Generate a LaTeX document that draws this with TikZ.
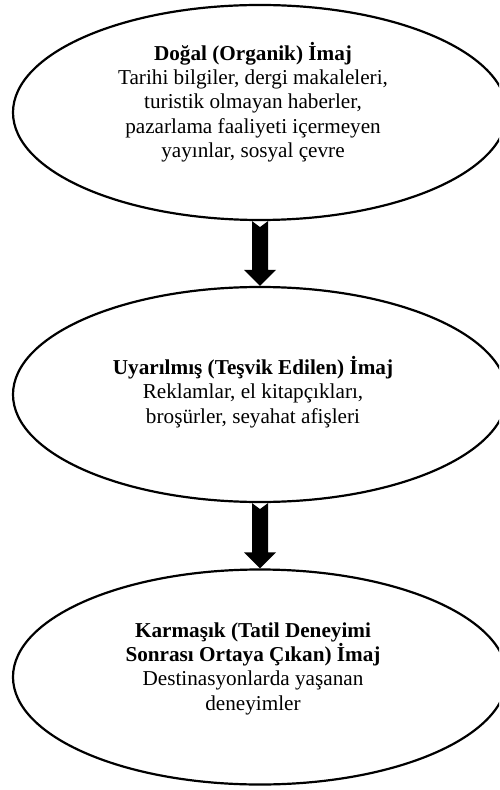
\documentclass[tikz,border=0pt]{standalone}
\usepackage{fontspec}
\setmainfont{Liberation Serif}
\usetikzlibrary{shapes.geometric,calc}
\begin{document}
\begin{tikzpicture}[x=0.5pt,y=-0.5pt,
  oval/.style={draw=black, line width=1.1pt, ellipse, minimum width=247pt,
    minimum height=107.5pt, inner sep=0pt},
  caption/.style={align=center, inner sep=0pt,
    font=\fontsize{10.6}{12.15}\selectfont},
  blockarrow/.style={fill=black, draw=none}]
\useasboundingbox (0,0) rectangle (499,790);
\clip (0,0) rectangle (499,790);

% the three stages
\node[oval] (e1) at (260,112.5) {};
\node[oval] (e2) at (260,394.5) {};
\node[oval] (e3) at (260,677) {};

\node[caption] (t1) at ($(e1.center)+(-7,-10.5)$) {\textbf{Doğal (Organik) İmaj}\\
  Tarihi bilgiler, dergi makaleleri,\\turistik olmayan haberler,\\
  pazarlama faaliyeti içermeyen\\yayınlar, sosyal çevre};
\node[caption] (t2) at ($(e2.center)+(-7,-2.5)$) {\textbf{Uyarılmış (Teşvik Edilen) İmaj}\\
  Reklamlar, el kitapçıkları,\\broşürler, seyahat afişleri};
\node[caption] (t3) at ($(e3.center)+(-7,-8.5)$) {\textbf{Karmaşık (Tatil Deneyimi}\\
  \textbf{Sonrası Ortaya Çıkan) İmaj}\\Destinasyonlarda yaşanan\\deneyimler};

% notched block arrows between stages
\foreach \a/\b in {e1/e2, e2/e3}{
  \fill[blockarrow] let \p1=(\a.south), \p2=(\b.north) in
    (\x1-4pt,\y1) -- (\x1,\y1-3pt) -- (\x1+4pt,\y1) -- (\x1+4pt,\y2+8pt)
    -- (\x1+8pt,\y2+8pt) -- (\x2,\y2) -- (\x1-8pt,\y2+8pt)
    -- (\x1-4pt,\y2+8pt) -- cycle;
}
\end{tikzpicture}
\end{document}
